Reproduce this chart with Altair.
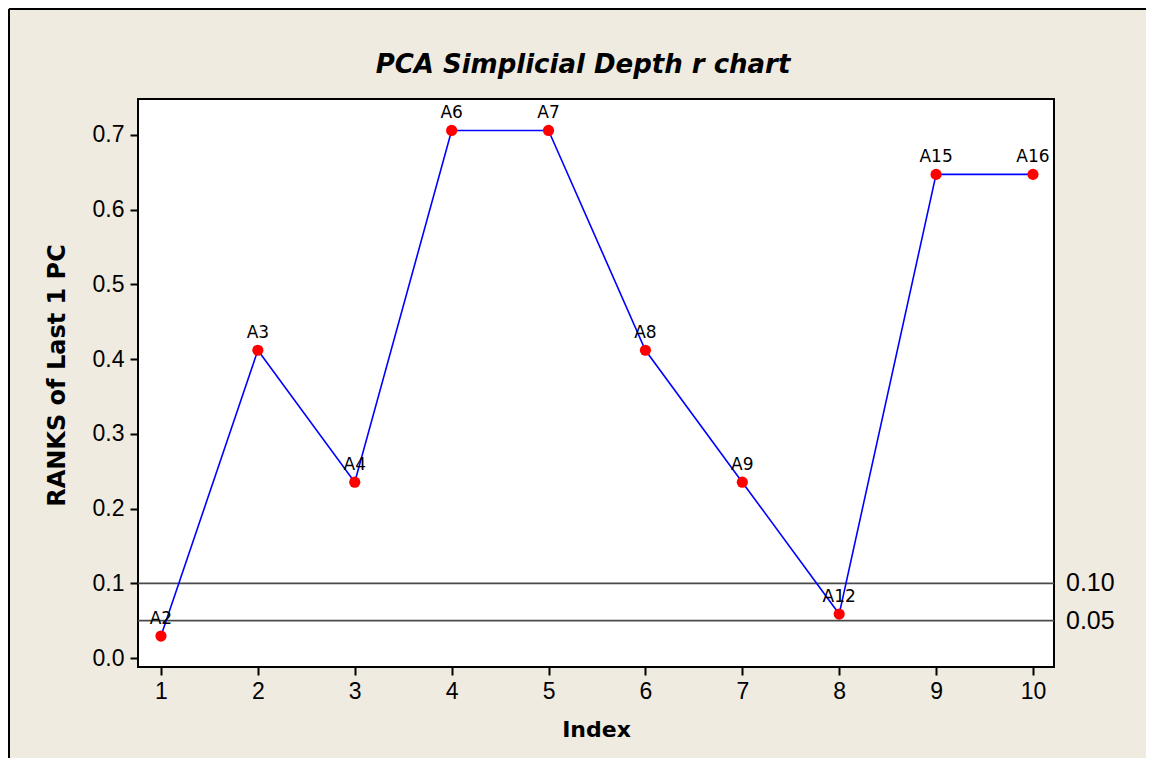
import altair as alt
import pandas as pd

index = [1, 2, 3, 4, 5, 6, 7, 8, 9, 10]
ranks = [0.0294, 0.4118, 0.2353, 0.7059, 0.7059, 0.4118, 0.2353, 0.0588, 0.6471, 0.6471]
labels = ["A2", "A3", "A4", "A6", "A7", "A8", "A9", "A12", "A15", "A16"]
ref_values = [0.10, 0.05]
ref_labels = ["0.10", "0.05"]
x_ticks = [1, 2, 3, 4, 5, 6, 7, 8, 9, 10]
y_ticks = [0.0, 0.1, 0.2, 0.3, 0.4, 0.5, 0.6, 0.7]
x_domain = [0.763, 10.217]
y_domain = [-0.012, 0.748]
title_text = "PCA Simplicial Depth r chart"

df = pd.DataFrame({"Index": index, "Rank": ranks, "Label": labels})
ref = pd.DataFrame({"value": ref_values, "label": ref_labels, "xmax": [x_domain[1]] * 2})
single = pd.DataFrame({"t": [title_text]})

W, H = 916, 568
FONT = "Liberation Sans"
BFONT = "DejaVu Sans"

xs = alt.Scale(domain=x_domain, nice=False, zero=False)
ys = alt.Scale(domain=y_domain, nice=False, zero=False)

xaxis = alt.Axis(values=x_ticks, format="d", title="Index", grid=False, domain=False,
                 tickColor="black", tickWidth=2, tickSize=8, labelFontSize=23,
                 labelColor="black", labelPadding=5, labelFont=FONT,
                 titleFont=BFONT, titleFontSize=22, titleFontWeight="bold", titleColor="black",
                 titleY=62, titleBaseline="middle")
yaxis = alt.Axis(values=y_ticks, format=".1f", title="RANKS of Last 1 PC", grid=False, domain=False,
                 tickColor="black", tickWidth=2, tickSize=8, labelFontSize=23,
                 labelColor="black", labelPadding=6, labelFont=FONT,
                 titleFont=BFONT, titleFontSize=24, titleFontWeight="bold", titleColor="black",
                 titleX=-81, titleY=H / 2 - 8, titleAngle=270, titleAlign="center", titleBaseline="middle")

base = alt.Chart(df)

line = base.mark_line(color="#0000FF", strokeWidth=1.6).encode(
    x=alt.X("Index:Q", scale=xs, axis=xaxis),
    y=alt.Y("Rank:Q", scale=ys, axis=yaxis),
)

refrules = alt.Chart(ref).mark_rule(color="#4a4a4a", strokeWidth=1.8).encode(
    y=alt.Y("value:Q", scale=ys)
)
reftext = alt.Chart(ref).mark_text(align="left", baseline="middle", dx=12, fontSize=25,
                                   font=FONT, color="black").encode(
    x=alt.X("xmax:Q", scale=xs),
    y=alt.Y("value:Q", scale=ys),
    text="label:N",
)

points = base.mark_point(filled=True, color="#FF0000", size=125, opacity=1, shape="circle").encode(
    x=alt.X("Index:Q", scale=xs),
    y=alt.Y("Rank:Q", scale=ys),
)
ptext = base.mark_text(dy=-12, baseline="alphabetic", fontSize=17, font=BFONT, color="black").encode(
    x=alt.X("Index:Q", scale=xs),
    y=alt.Y("Rank:Q", scale=ys),
    text="Label:N",
)

frame_left = alt.Chart(single).mark_rule(color="black", strokeWidth=2).encode(
    x=alt.value(-129), y=alt.value(-90), y2=alt.value(H + 91)
)
frame_top = alt.Chart(single).mark_rule(color="black", strokeWidth=2).encode(
    x=alt.value(-129), x2=alt.value(W + 92), y=alt.value(-90)
)

title = alt.Chart(single).mark_text(font=BFONT, fontSize=26, fontWeight="bold", fontStyle="italic",
                                    color="black", align="center", baseline="alphabetic").encode(
    x=alt.value(W / 2 - 13), y=alt.value(-26), text="t:N"
)

chart = alt.layer(frame_left, frame_top, title, refrules, line, points, ptext, reftext).properties(
    width=W,
    height=H,
    autosize=alt.AutoSizeParams(type="none"),
    padding={"left": 130, "top": 91, "right": 92, "bottom": 91},
    background="#F0EBE1",
).configure_view(
    stroke="black", strokeWidth=2, fill="white"
)

chart.save("out.html", embed_options={"renderer": "svg", "actions": False})
